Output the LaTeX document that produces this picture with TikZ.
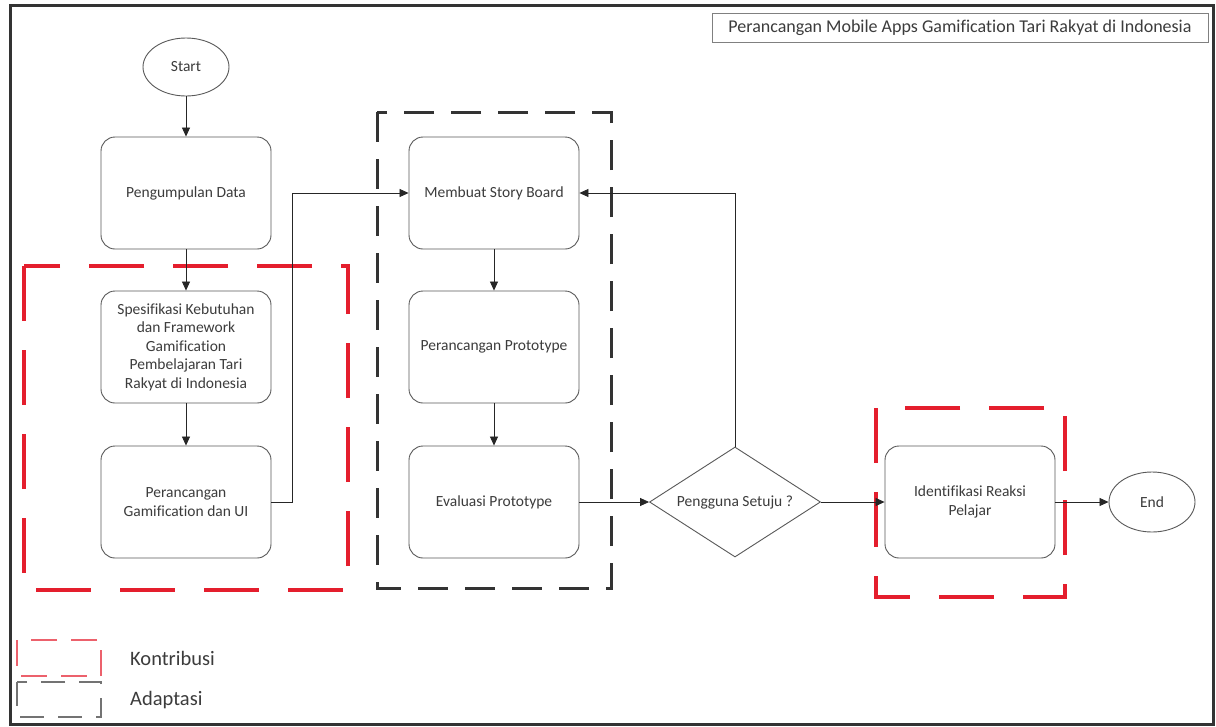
\documentclass[tikz,border=0pt]{standalone}
\usepackage{fontspec}
\setmainfont[Ligatures=NoCommon]{Carlito}
\usetikzlibrary{arrows.meta,shapes.geometric,calc}
\definecolor{redd}{RGB}{228,30,45}
\definecolor{txt}{RGB}{60,60,60}
\begin{document}
\begin{tikzpicture}[x=1pt,y=-1pt,
  proc/.style={draw=black!65, line width=0.9pt, rounded corners=14pt, minimum width=170pt, minimum height=112pt, align=center, font=\fontsize{15.5}{18.5}\selectfont, text=txt, inner sep=0pt},
  term/.style={draw=black!65, line width=0.9pt, ellipse, minimum width=86pt, minimum height=58pt, font=\fontsize{15.5}{18}\selectfont, text=txt, inner sep=0pt},
  decis/.style={draw=black!65, line width=0.9pt, diamond, aspect=1.55, minimum width=171pt, minimum height=110pt, font=\fontsize{15.5}{18}\selectfont, text=txt, inner sep=0pt},
  arr/.style={draw=black!85, line width=0.8pt, -{Triangle[length=9pt,width=8pt]}},
  redbox/.style={draw=redd, line width=3.2pt, dash pattern=on 55pt off 29pt},
  blkbox/.style={draw=black!80, line width=3pt, dash pattern=on 30pt off 17pt},
  legtxt/.style={font=\fontsize{20.5}{24}\selectfont, text=txt, anchor=west, inner sep=0pt}
]
\useasboundingbox (0,0) rectangle (1216,726);
\fill[white] (0,0) rectangle (1216,726);
% outer frame
\draw[line width=3pt, black!80] (10,5) rectangle (1213,724);
% title
\node[draw=black!50, line width=1pt, minimum width=496pt, minimum height=29pt, inner sep=0pt, font=\fontsize{18}{20}\selectfont, text=txt] (title) at (960,28) {Perancangan Mobile Apps Gamification Tari Rakyat di Indonesia};

% group boxes
\draw[redbox] (24,266) rectangle (348,590);
\draw[blkbox] (377,112) rectangle (611,588);
\draw[redbox] (876,408) rectangle (1065,597);

% nodes
\node[term] (start) at (186,67) {Start};
\node[proc] (pd) at (186,193) {Pengumpulan Data};
\node[proc] (spec) at (186,347) {Spesifikasi Kebutuhan\\dan Framework\\Gamification\\Pembelajaran Tari\\Rakyat di Indonesia};
\node[proc] (pg) at (186,502) {Perancangan\\Gamification dan UI};
\node[proc] (msb) at (494,193) {Membuat Story Board};
\node[proc] (pp) at (494,347) {Perancangan Prototype};
\node[proc] (ep) at (494,502) {Evaluasi Prototype};
\node[decis] (dia) at (735,502) {Pengguna Setuju ?};
\node[proc] (irp) at (970,502) {Identifikasi Reaksi\\Pelajar};
\node[term, minimum height=60pt] (end) at (1152,502) {End};

% connectors
\coordinate (j1) at (292,502);
\draw[arr] (start) -- (pd);
\draw[arr] (pd) -- (spec);
\draw[arr] (spec) -- (pg);
\draw[arr] (pg.east) -- (j1) |- (msb.west);
\draw[arr] (msb) -- (pp);
\draw[arr] (pp) -- (ep);
\draw[arr] (ep.east) -- (dia.west);
\draw[arr] (dia.north) |- (msb.east);
\draw[arr] (dia.east) -- (irp.west);
\draw[arr] (irp.east) -- (end.west);

% legend
\draw[draw=redd!70, line width=2pt, dash pattern=on 26pt off 14pt] (17,640) rectangle (101,676);
\draw[draw=black!55, line width=2pt, dash pattern=on 24pt off 14pt] (17,682) rectangle (101,717);
\node[legtxt] (k) at (130,658) {Kontribusi};
\node[legtxt] (a) at (130,700) {Adaptasi};
\end{tikzpicture}
\end{document}
